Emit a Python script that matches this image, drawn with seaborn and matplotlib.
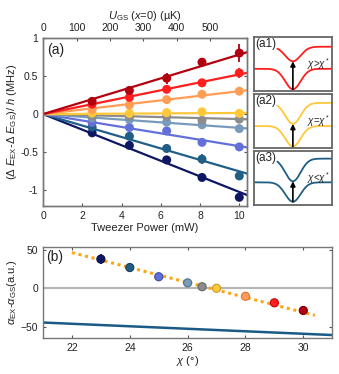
import matplotlib
matplotlib.use("Agg")
import matplotlib.pyplot as plt
import numpy as np
import pandas as pd
import seaborn as sns

# ---- data -------------------------------------------------------------
chi = [23, 24, 25, 26, 26.5, 27, 28, 29, 30]
colors = ["#0d1763", "#215e86", "#6470da", "#789bbb", "#8c8c8c",
          "#ffc83a", "#ff9d55", "#ff1f1f", "#b3000f"]
edge_b = ["#08104a", "#163f5c", "#3f4ca0", "#52708c", "#666666",
          "#c99a2a", "#d9763a", "#c80000", "#7a0008"]

power = [2.5, 4.4, 6.3, 8.1, 10.0]
shift = [
    [-0.245, -0.41, -0.60, -0.83, -1.09],
    [-0.17, -0.29, -0.45, -0.59, -0.81],
    [-0.11, -0.175, -0.22, -0.37, -0.43],
    [-0.05, -0.07, -0.105, -0.14, -0.19],
    [-0.03, -0.03, -0.03, -0.08, -0.066],
    [0.013, 0.01, 0.02, 0.03, 0.01],
    [0.06, 0.12, 0.19, 0.26, 0.30],
    [0.13, 0.22, 0.325, 0.41, 0.54],
    [0.167, 0.31, 0.47, 0.68, 0.80],
]
shift_err = [
    [0.02, 0.02, 0.03, 0.04, 0.03],
    [0.02, 0.02, 0.03, 0.07, 0.03],
    [0.02, 0.02, 0.02, 0.05, 0.02],
    [0.02, 0.02, 0.02, 0.03, 0.02],
    [0.02, 0.02, 0.02, 0.02, 0.02],
    [0.02, 0.02, 0.02, 0.03, 0.02],
    [0.02, 0.02, 0.02, 0.05, 0.02],
    [0.02, 0.03, 0.03, 0.04, 0.07],
    [0.03, 0.05, 0.07, 0.06, 0.12],
]
fit_slope = [-0.102, -0.075, -0.042, -0.018, -0.0065, 0.0015, 0.030, 0.052, 0.078]
power_max = 10.4
ugs_max = 610  # uK at power_max

alpha_diff = [38, 27, 15, 7, 2, 0, -10.5, -19, -29]
alpha_err = [7, 5, 2, 2, 2, 2, 2, 2, 6]
fit_chi = [22, 30.4]
fit_alpha = [46.5, -35.3]
theory_chi = [21, 31]
theory_alpha = [-44.7, -61]

# inset schematics: (upper baseline, upper depth, lower baseline, lower depth)
inset_names = ["(a1)", "(a2)", "(a3)"]
inset_text = [r"$\chi$>$\chi^*$", r"$\chi$=$\chi^*$", r"$\chi$<$\chi^*$"]
inset_colors = ["#ff1f1f", "#ffc83a", "#215e86"]
upper_base = [0.82, 0.84, 0.86]
upper_depth = [0.27, 0.39, 0.42]
lower_base = [0.41, 0.41, 0.42]
lower_depth = [0.38, 0.38, 0.36]

# ---- style ------------------------------------------------------------
sns.set_style("ticks")
plt.rcParams["font.family"] = ["Liberation Sans", "DejaVu Sans"]
plt.rcParams["mathtext.fontset"] = "custom"
plt.rcParams["mathtext.rm"] = "Liberation Sans"
plt.rcParams["mathtext.it"] = "Liberation Sans:italic"
plt.rcParams["text.color"] = "#222222"
plt.rcParams["axes.labelcolor"] = "#222222"
plt.rcParams["xtick.color"] = "#555555"
plt.rcParams["ytick.color"] = "#555555"
plt.rcParams["xtick.labelcolor"] = "#222222"
plt.rcParams["ytick.labelcolor"] = "#222222"

fig = plt.figure(figsize=(3.39, 3.74), dpi=100)


def frame(ax, lw=1.0, color="#777777"):
    for s in ax.spines.values():
        s.set_visible(True)
        s.set_color(color)
        s.set_linewidth(lw)


# ---- panel (a) --------------------------------------------------------
ax = fig.add_axes([0.127, 0.45, 0.602, 0.449])
rows = []
for c, ys in zip(chi, shift):
    for p, y in zip(power, ys):
        rows.append({"power": p, "shift": y, "chi": str(c)})
df_a = pd.DataFrame(rows)
xs = np.array([0, power_max])
for k in range(len(chi)):
    ax.plot(xs, fit_slope[k] * xs, color=colors[k], lw=1.6, zorder=2)
    ax.errorbar(power, shift[k], yerr=shift_err[k], fmt="none",
                ecolor=colors[k], elinewidth=1.3, capsize=0, zorder=3)
sns.scatterplot(data=df_a, x="power", y="shift", hue="chi",
                palette=colors, s=42, linewidth=0, legend=False, ax=ax, zorder=4)
ax.set_xlim(0, power_max)
ax.set_ylim(-1.2, 1.0)
ax.set_xticks([0, 2, 4, 6, 8, 10])
ax.set_yticks([-1, -0.5, 0, 0.5, 1])
ax.set_yticklabels(["-1", "-0.5", "0", "0.5", "1"])
ax.tick_params(direction="in", length=2.5, labelsize=7.5, right=True)
ax.set_xlabel("Tweezer Power (mW)", fontsize=8, labelpad=2)
ax.set_ylabel(r"($\Delta$ $E_{\rm EX}$-$\Delta$ $E_{\rm GS}$)/ $h$ (MHz)",
              fontsize=8, labelpad=1)
ax.text(0.02, 0.97, "(a)", transform=ax.transAxes, fontsize=10,
        va="top", ha="left")
frame(ax)

ax_top = ax.twiny()
ax_top.set_xlim(0, ugs_max)
ax_top.set_xticks([0, 100, 200, 300, 400, 500])
ax_top.tick_params(direction="in", length=2.5, labelsize=7.5)
ax_top.set_xlabel(r"$U_{\rm GS}$ ($x$=0) (µK)", fontsize=8, labelpad=3)
frame(ax_top)

# ---- insets (a1)-(a3) -------------------------------------------------
xx = np.linspace(0, 1, 300)
dip = np.exp(-((xx - 0.5) / 0.14) ** 2)
bottoms = [0.757, 0.604, 0.452]
for i in range(3):
    ai = fig.add_axes([0.749, bottoms[i], 0.230, 0.144])
    up = upper_base[i] - upper_depth[i] * dip
    lo = lower_base[i] - lower_depth[i] * dip
    m = xx >= 0.3
    ai.plot(xx[m], up[m], color=inset_colors[i], lw=1.3)
    ai.plot(xx, lo, color=inset_colors[i], lw=1.3)
    ai.annotate("", xy=(0.5, upper_base[i] - upper_depth[i]),
                xytext=(0.5, lower_base[i] - lower_depth[i]),
                arrowprops=dict(arrowstyle="-|>", color="black", lw=1.2,
                                mutation_scale=7, shrinkA=0, shrinkB=0))
    ai.text(0.02, 0.98, inset_names[i], transform=ai.transAxes,
            fontsize=8.5, va="top", ha="left")
    ai.text(0.83, 0.5, inset_text[i], transform=ai.transAxes,
            fontsize=7, va="center", ha="center")
    ai.set_xlim(0, 1)
    ai.set_ylim(0, 1)
    ai.set_xticks([])
    ai.set_yticks([])
    frame(ai, lw=1.3, color="#666666")

# ---- panel (b) --------------------------------------------------------
bx = fig.add_axes([0.127, 0.096, 0.853, 0.244])
df_b = pd.DataFrame({"chi": chi, "alpha": alpha_diff,
                     "grp": [str(c) for c in chi]})
bx.axhline(0, color="#b5b5b5", lw=1.5, zorder=1)
bx.plot(theory_chi, theory_alpha, color="#1a5a86", lw=1.8, zorder=1)
bx.plot(fit_chi, fit_alpha, color="#ffa514", lw=2.2, ls=(0, (1, 1.2)), zorder=2)
for k in range(len(chi)):
    bx.errorbar(chi[k], alpha_diff[k], yerr=alpha_err[k], fmt="none",
                ecolor=colors[k], elinewidth=1.3, capsize=0, zorder=3)
sns.scatterplot(data=df_b, x="chi", y="alpha", hue="grp", palette=colors,
                s=34, edgecolor=edge_b, linewidth=0.8, legend=False, ax=bx,
                zorder=4)
bx.set_xlim(21, 31)
bx.set_ylim(-65, 54)
bx.set_xticks([22, 24, 26, 28, 30])
bx.set_yticks([-50, 0, 50])
bx.tick_params(direction="in", length=2.5, labelsize=7.5, right=True, top=True)
bx.set_xlabel(r"$\chi$ (°)", fontsize=8, labelpad=1)
bx.set_ylabel(r"$\alpha_{\rm EX}$-$\alpha_{\rm GS}$(a.u.)", fontsize=8, labelpad=1)
bx.text(0.01, 0.97, "(b)", transform=bx.transAxes, fontsize=10,
        va="top", ha="left")
frame(bx)

fig.savefig("out.png", dpi=100)
